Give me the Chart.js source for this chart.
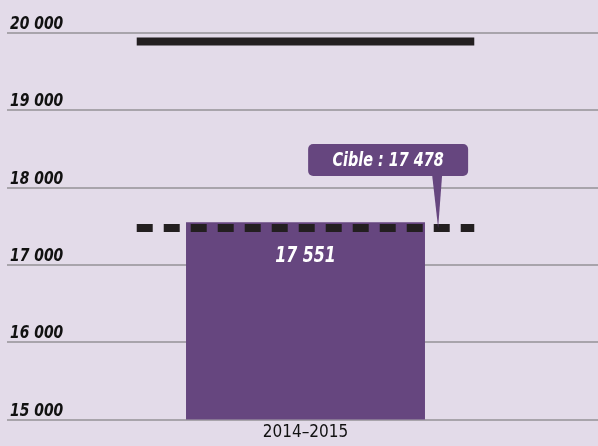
<!DOCTYPE html>
<html>
<head>
<meta charset="utf-8">
<script src="https://cdn.jsdelivr.net/npm/chart.js@4/dist/chart.umd.min.js"></script>
<style>
  html, body { margin: 0; padding: 0; background: #e3dbe9; }
  #wrap { width: 598px; height: 446px; }
</style>
</head>
<body>
<div id="wrap"><canvas id="cibleChart"></canvas></div>
<script>
var categories = ['2014\u20132015'];
var actualValues = [17551];
var targetValue = 17478;
var topLineValue = 19890;
var yTicks = [15000, 16000, 17000, 18000, 19000, 20000];
var targetLabel = 'Cible';

var PURPLE = '#66467f';
var INK = '#231f20';
var FONT = '"Liberation Sans Narrow", "DejaVu Sans Condensed", sans-serif';
var LINE_SPAN = 0.577;

function fmt(v) {
    var s = String(Math.round(v));
    return s.replace(/\B(?=(\d{3})+(?!\d))/g, ' ');
}

// squeezes text horizontally for the condensed look
function narrowText(ctx, text, x, y, squeeze) {
    ctx.save();
    ctx.translate(x, y);
    ctx.scale(squeeze, 1);
    ctx.fillText(text, 0, 0);
    ctx.restore();
}

// tick labels sit above their grid line, left aligned
var tickLabels = {
    id: 'tickLabels',
    afterDatasetsDraw: function (chart) {
        var ctx = chart.ctx;
        var y = chart.scales.y;
        ctx.save();
        ctx.fillStyle = '#111';
        ctx.font = 'italic bold 18px ' + FONT;
        ctx.textAlign = 'left';
        ctx.textBaseline = 'alphabetic';
        yTicks.forEach(function (t) {
            narrowText(ctx, fmt(t), 10, y.getPixelForValue(t) - 4, 0.86);
        });
        ctx.restore();
    }
};

var annotations = {
    id: 'annotations',
    afterDatasetsDraw: function (chart) {
        var ctx = chart.ctx;
        var y = chart.scales.y;
        var x2 = chart.scales.x2;
        var bar = chart.getDatasetMeta(0).data[0];

        // value inside bar
        ctx.save();
        ctx.fillStyle = '#fff';
        ctx.font = 'italic bold 22px ' + FONT;
        ctx.textAlign = 'center';
        ctx.textBaseline = 'middle';
        narrowText(ctx, fmt(actualValues[0]), bar.x, y.getPixelForValue(targetValue) + 28, 0.8);

        // callout for target
        var tipX = x2.getPixelForValue(0.45);
        var tipY = y.getPixelForValue(targetValue);
        var bx = tipX - 129, by = tipY - 84, bw = 160, bh = 32;
        ctx.fillStyle = PURPLE;
        ctx.beginPath();
        ctx.roundRect(bx, by, bw, bh, 5);
        ctx.fill();
        ctx.beginPath();
        ctx.moveTo(tipX - 5, by + bh - 1);
        ctx.lineTo(tipX + 5, by + bh - 1);
        ctx.lineTo(tipX + 1, tipY);
        ctx.closePath();
        ctx.fill();
        ctx.fillStyle = '#fff';
        ctx.font = 'italic bold 20px ' + FONT;
        narrowText(ctx, targetLabel + ' : ' + fmt(targetValue), bx + 80, by + bh / 2 + 1, 0.8);
        ctx.restore();
    }
};

var ctx = document.getElementById('cibleChart').getContext('2d');
var chart = new Chart(ctx, {
    type: 'bar',
    data: {
        labels: categories,
        datasets: [
            {
                type: 'bar',
                data: actualValues,
                backgroundColor: PURPLE,
                barPercentage: 0.4085,
                categoryPercentage: 1,
                grouped: false,
                order: 3
            },
            {
                type: 'line',
                xAxisID: 'x2',
                data: [{ x: -LINE_SPAN, y: targetValue }, { x: LINE_SPAN, y: targetValue }],
                borderColor: INK,
                borderWidth: 8,
                borderDash: [16, 11],
                borderCapStyle: 'butt',
                pointRadius: 0,
                order: 2
            },
            {
                type: 'line',
                xAxisID: 'x2',
                data: [{ x: -LINE_SPAN, y: topLineValue }, { x: LINE_SPAN, y: topLineValue }],
                borderColor: INK,
                borderWidth: 8,
                pointRadius: 0,
                order: 1
            }
        ]
    },
    options: {
        responsive: true,
        maintainAspectRatio: false,
        animation: false,
        layout: { padding: { left: 7, top: 0, right: 0, bottom: 0 } },
        plugins: {
            legend: { display: false },
            tooltip: { enabled: false }
        },
        scales: {
            x: {
                type: 'category',
                offset: true,
                grid: { display: false, drawTicks: false },
                border: { display: false },
                ticks: {
                    color: '#111',
                    font: { family: FONT, size: 17 },
                    padding: 3
                }
            },
            x2: {
                type: 'linear',
                display: false,
                offset: false,
                min: -1,
                max: 1
            },
            y: {
                min: 15000,
                max: 20427,
                // tick marks extend the grid lines out to the left edge
                grid: { color: '#a8a4ab', lineWidth: 2, drawTicks: true, tickLength: 6 },
                border: { display: false },
                afterBuildTicks: function (scale) {
                    scale.ticks = yTicks.map(function (v) { return { value: v }; });
                },
                ticks: { display: false }
            }
        }
    },
    plugins: [tickLabels, annotations]
});
</script>
</body>
</html>
